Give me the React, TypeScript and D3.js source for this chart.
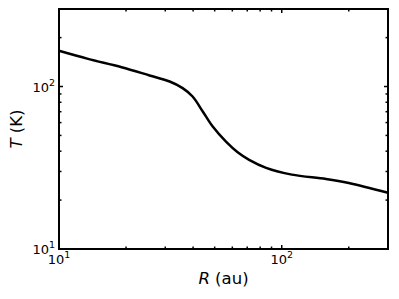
import React, { useEffect, useRef } from 'react';
import * as d3 from 'd3';

// radius (au) and temperature (K)
const radius = [10, 13.5, 19.1, 25.5, 31.4, 35.9, 39.8, 44.2, 49, 56.2, 63.4, 71.4, 85.1, 111, 158, 200, 300];
const temperature = [166, 148, 131.5, 117, 107.4, 97.8, 86.8, 70.2, 56.7, 45.8, 39.4, 35.4, 31.6, 28.7, 27.0, 25.5, 22.2];

const xDomain = [10, 300];
const yDomain = [10, 300];
const majorTicks = [10, 100];

function App() {
    const ref = useRef<SVGSVGElement>(null);

    useEffect(() => {
        const width = 399;
        const height = 299;
        const margin = { top: 9, right: 11, bottom: 50, left: 59 };
        const font = 'DejaVu Sans, sans-serif';

        const svg = d3.select(ref.current)
            .attr('width', width)
            .attr('height', height);
        svg.selectAll('*').remove();

        const x = d3.scaleLog().domain(xDomain).range([margin.left, width - margin.right]);
        const y = d3.scaleLog().domain(yDomain).range([height - margin.bottom, margin.top]);

        const [x0, x1] = x.range();
        const [y0, y1] = y.range();

        const xMinor = x.ticks().filter(t => !majorTicks.includes(t));
        const yMinor = y.ticks().filter(t => !majorTicks.includes(t));

        const ticks = svg.append('g').attr('stroke', '#000').attr('stroke-width', 1.5);

        // ticks on all four sides, pointing inward
        const xAll = [...majorTicks.map(t => ({ t, len: 4 })), ...xMinor.map(t => ({ t, len: 2.5 }))];
        xAll.forEach(({ t, len }) => {
            ticks.append('line').attr('x1', x(t)).attr('x2', x(t)).attr('y1', y0).attr('y2', y0 - len);
            ticks.append('line').attr('x1', x(t)).attr('x2', x(t)).attr('y1', y1).attr('y2', y1 + len);
        });
        const yAll = [...majorTicks.map(t => ({ t, len: 4 })), ...yMinor.map(t => ({ t, len: 2.5 }))];
        yAll.forEach(({ t, len }) => {
            ticks.append('line').attr('y1', y(t)).attr('y2', y(t)).attr('x1', x0).attr('x2', x0 + len);
            ticks.append('line').attr('y1', y(t)).attr('y2', y(t)).attr('x1', x1).attr('x2', x1 - len);
        });

        const line = d3.line<number>()
            .x((d, i) => x(radius[i]))
            .y(d => y(d))
            .curve(d3.curveCatmullRom.alpha(0.5));

        svg.append('path')
            .datum(temperature)
            .attr('d', line)
            .attr('fill', 'none')
            .attr('stroke', '#000')
            .attr('stroke-width', 2.5);

        svg.append('rect')
            .attr('x', x0).attr('y', y1)
            .attr('width', x1 - x0).attr('height', y0 - y1)
            .attr('fill', 'none')
            .attr('stroke', '#000')
            .attr('stroke-width', 2);

        const label = (g: any, exp: number) => {
            g.append('tspan').text('10');
            g.append('tspan').attr('dy', -6).attr('font-size', 9.5).text(exp);
        };

        majorTicks.forEach(t => {
            const exp = Math.round(Math.log10(t));
            const tx = svg.append('text')
                .attr('x', x(t)).attr('y', y0 + 15)
                .attr('text-anchor', 'middle')
                .attr('font-family', font).attr('font-size', 13);
            label(tx, exp);
            const ty = svg.append('text')
                .attr('x', x0 - 4).attr('y', y(t) + 5)
                .attr('text-anchor', 'end')
                .attr('font-family', font).attr('font-size', 13);
            label(ty, exp);
        });

        const xl = svg.append('text')
            .attr('x', (x0 + x1) / 2).attr('y', 284)
            .attr('text-anchor', 'middle')
            .attr('font-family', font).attr('font-size', 16.5);
        xl.append('tspan').attr('font-style', 'italic').text('R');
        xl.append('tspan').text(' (au)');

        const yl = svg.append('text')
            .attr('transform', `translate(22,${(y0 + y1) / 2}) rotate(-90)`)
            .attr('text-anchor', 'middle')
            .attr('font-family', font).attr('font-size', 16.5);
        yl.append('tspan').attr('font-style', 'italic').text('T');
        yl.append('tspan').text(' (K)');
    }, []);

    return (
        <div style={{ position: 'absolute', left: 0, top: 0 }}>
            <svg ref={ref}></svg>
        </div>
    );
}

export default App;
